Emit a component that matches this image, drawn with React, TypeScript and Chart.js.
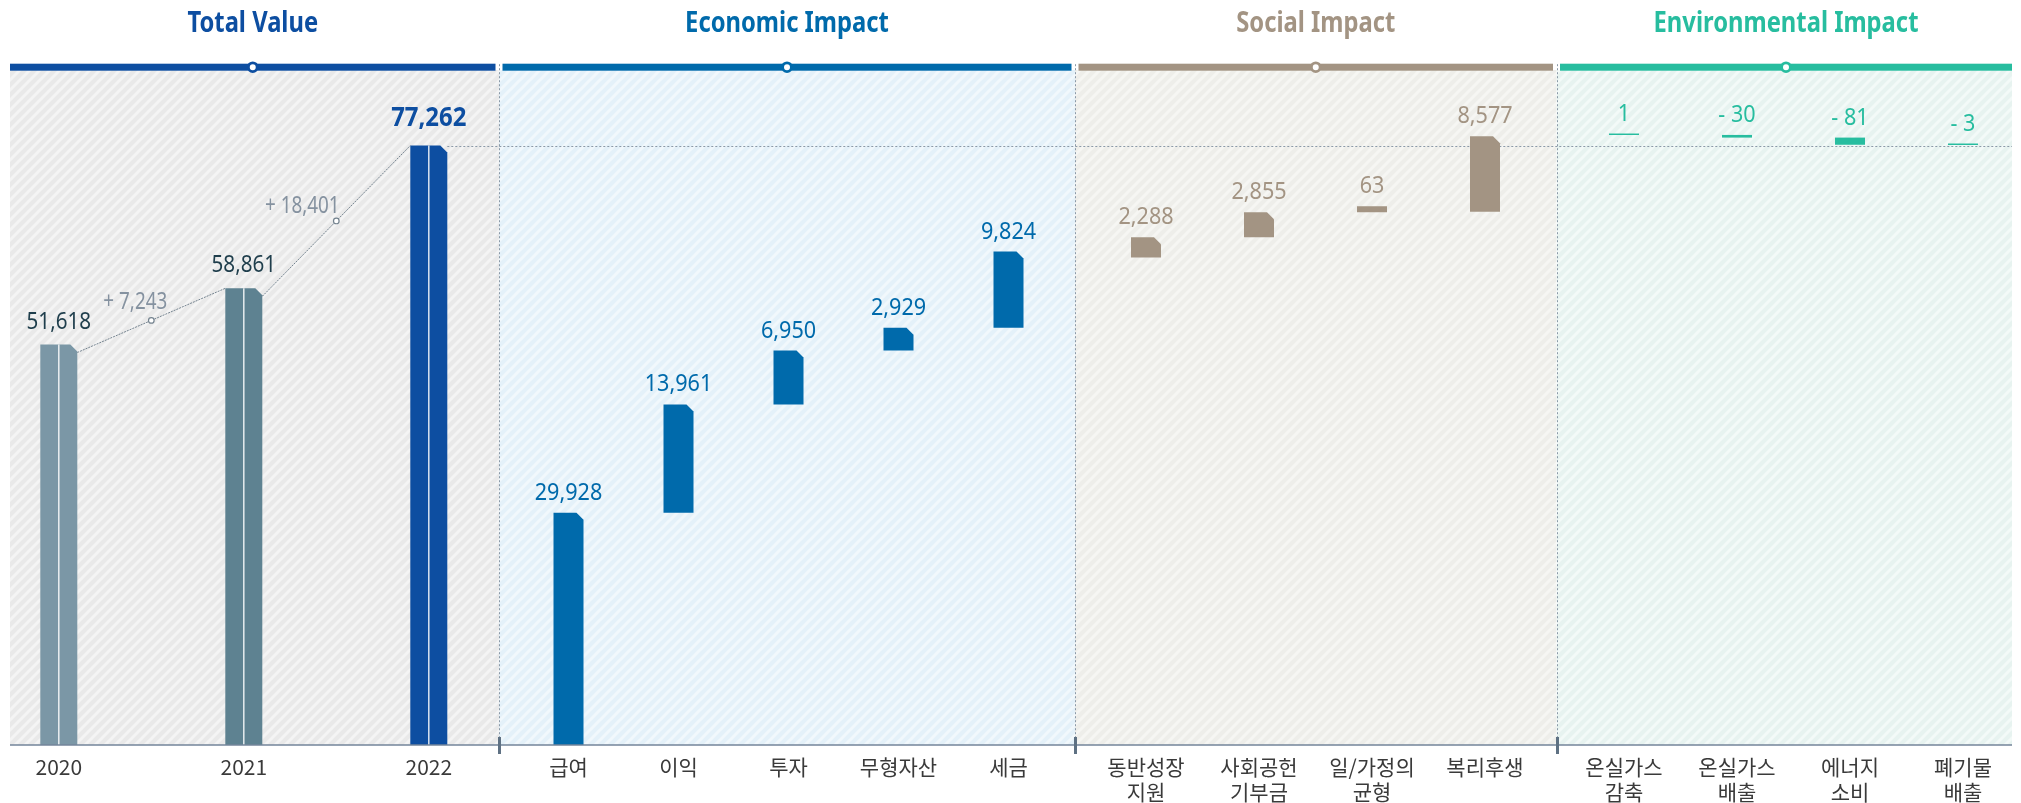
import React, { useEffect, useRef } from 'react';
import { Chart, registerables } from 'chart.js';

Chart.register(...registerables);

// ---------------- data ----------------
const panelTitles = ['Total Value', 'Economic Impact', 'Social Impact', 'Environmental Impact'];
const totalYears = ['2020', '2021', '2022'];
const totalValues = [51618, 58861, 77262];
const economicLabels = ['급여', '이익', '투자', '무형자산', '세금'];
const economicValues = [29928, 13961, 6950, 2929, 9824];
const socialLabels: string[][] = [['동반성장', '지원'], ['사회공헌', '기부금'], ['일/가정의', '균형'], ['복리후생']];
const socialValues = [2288, 2855, 63, 8577];
const envLabels: string[][] = [['온실가스', '감축'], ['온실가스', '배출'], ['에너지', '소비'], ['폐기물', '배출']];
const envValues = [1, -30, -81, -3];

// ---------------- layout & style ----------------
const CANVAS_W = 2021;
const CANVAS_H = 803;
const PANEL_EDGES = [10, 499, 1075, 1556.5, 2012];
const FIRST_OFFSET = [48.8, 69.5, 71, 67.5];
const ITEM_STEP = [185, 110, 113, 113];
const CHART_TOP = 70;
const AXIS_HEIGHT = 58;
const HEADER_Y = 67.2;
const HEADER_THICK = 7;
const HEADER_GAP = 3.5;
const CHAMFER = 7;
const CONNECTOR_LABEL_OFFSET: [number, number][] = [[-16, -11], [-34, -8]];

const headerColors = ['#0d4ea1', '#006aab', '#a39483', '#27bd9f'];
const panelBase = ['#e9e9e9', '#e4f1f9', '#eeeeea', '#e7f3f0'];
const panelStripe = ['#f4f4f4', '#f1f8fc', '#f6f6f3', '#f3faf8'];
const totalBarColors = ['#7b97a6', '#5e8291', '#0d4ea1'];
const totalLabelColor = '#1f3e4c';
const connectorColor = '#74838f';
const dottedColor = '#8b99a7';
const FONT_LATIN = '"Noto Sans", "DejaVu Sans", sans-serif';
const FONT_KR = '"Noto Sans CJK KR", "Noto Sans", sans-serif';

// ---------------- derived ----------------
const sum = (a: number[]) => a.reduce((s, v) => s + v, 0);
function waterfall(values: number[], start: number): [number, number][] {
  let c = start;
  return values.map((v) => {
    const r: [number, number] = [c, c + v];
    c += v;
    return r;
  });
}
const econRanges = waterfall(economicValues, 0);
const econEnd = sum(economicValues);
const socialRanges = waterfall(socialValues, econEnd);
const socialEnd = econEnd + sum(socialValues);
const envRanges = waterfall(envValues, socialEnd);

const panelX = (p: number, n: number) =>
  Array.from({ length: n }, (_, i) => PANEL_EDGES[p] + FIRST_OFFSET[p] + i * ITEM_STEP[p]);
const xTotal = panelX(0, totalValues.length);
const xEcon = panelX(1, economicValues.length);
const xSocial = panelX(2, socialValues.length);
const xEnv = panelX(3, envValues.length);
const tickX = [...xTotal, ...xEcon, ...xSocial, ...xEnv];
const tickLabels: (string | string[])[] = [...totalYears, ...economicLabels, ...socialLabels, ...envLabels];
const panelValues = [totalValues, economicValues, socialValues, envValues];

const fmt = (v: number) => v.toLocaleString('en-US');

function scaledText(
  ctx: CanvasRenderingContext2D,
  text: string,
  x: number,
  y: number,
  font: string,
  color: string,
  sx: number
) {
  ctx.save();
  ctx.font = font;
  ctx.fillStyle = color;
  ctx.textAlign = 'center';
  ctx.textBaseline = 'alphabetic';
  ctx.translate(x, y);
  ctx.scale(sx, 1);
  ctx.fillText(text, 0, 0);
  ctx.restore();
}

function makePattern(ctx: CanvasRenderingContext2D, base: string, stripe: string) {
  const c = document.createElement('canvas');
  c.width = 10;
  c.height = 10;
  const g = c.getContext('2d')!;
  g.fillStyle = base;
  g.fillRect(0, 0, 10, 10);
  g.strokeStyle = stripe;
  g.lineWidth = 3;
  g.beginPath();
  g.moveTo(0, 10);
  g.lineTo(10, 0);
  g.moveTo(-5, 5);
  g.lineTo(5, -5);
  g.moveTo(5, 15);
  g.lineTo(15, 5);
  g.stroke();
  return ctx.createPattern(c, 'repeat')!;
}

const decorPlugin = {
  id: 'decor',
  beforeDraw(chart: any) {
    const ctx: CanvasRenderingContext2D = chart.ctx;
    const a = chart.chartArea;
    ctx.save();
    for (let p = 0; p < 4; p++) {
      ctx.fillStyle = makePattern(ctx, panelBase[p], panelStripe[p]);
      ctx.fillRect(PANEL_EDGES[p], a.top, PANEL_EDGES[p + 1] - PANEL_EDGES[p], a.bottom - a.top);
    }
    for (let p = 0; p < 4; p++) {
      const x0 = PANEL_EDGES[p] + (p > 0 ? HEADER_GAP : 0);
      const x1 = PANEL_EDGES[p + 1] - (p < 3 ? HEADER_GAP : 0);
      ctx.fillStyle = headerColors[p];
      ctx.fillRect(x0, HEADER_Y - HEADER_THICK / 2, x1 - x0, HEADER_THICK);
      const cx = (x0 + x1) / 2;
      ctx.beginPath();
      ctx.arc(cx, HEADER_Y, 4.4, 0, Math.PI * 2);
      ctx.fillStyle = '#ffffff';
      ctx.fill();
      ctx.lineWidth = 2.8;
      ctx.strokeStyle = headerColors[p];
      ctx.stroke();
      scaledText(ctx, panelTitles[p], cx, 32, `bold 29px ${FONT_LATIN}`, headerColors[p], 0.82);
    }
    ctx.restore();
  },
  afterDatasetsDraw(chart: any) {
    const ctx: CanvasRenderingContext2D = chart.ctx;
    const a = chart.chartArea;
    ctx.save();

    // vertical dotted separators
    ctx.strokeStyle = dottedColor;
    ctx.lineWidth = 1;
    ctx.setLineDash([2, 2]);
    for (let p = 1; p < 4; p++) {
      const x = Math.round(PANEL_EDGES[p]) + 0.5;
      ctx.beginPath();
      ctx.moveTo(x, HEADER_Y - 3);
      ctx.lineTo(x, a.bottom);
      ctx.stroke();
    }
    // horizontal dotted line at final total value
    const totalMeta = chart.getDatasetMeta(0);
    const lastIdx = totalValues.length - 1;
    const lastEl = totalMeta.data[lastIdx];
    const yTot = Math.round(chart.scales.y.getPixelForValue(totalValues[lastIdx])) + 0.5;
    ctx.beginPath();
    ctx.moveTo(lastEl.x + lastEl.width / 2, yTot);
    ctx.lineTo(a.right, yTot);
    ctx.stroke();
    ctx.setLineDash([]);

    // bars
    chart.data.datasets.forEach((ds: any, di: number) => {
      const meta = chart.getDatasetMeta(di);
      meta.data.forEach((el: any, i: number) => {
        const left = el.x - el.width / 2;
        const right = el.x + el.width / 2;
        const top = Math.min(el.y, el.base);
        const bottom = Math.max(el.y, el.base);
        const h = bottom - top;
        const c = h >= 15 ? CHAMFER : 0;
        ctx.fillStyle = di === 0 ? totalBarColors[i] : headerColors[di];
        ctx.beginPath();
        ctx.moveTo(left, bottom);
        ctx.lineTo(left, top);
        ctx.lineTo(right - c, top);
        ctx.lineTo(right, top + c);
        ctx.lineTo(right, bottom);
        ctx.closePath();
        ctx.fill();
        if (di === 0) {
          ctx.strokeStyle = 'rgba(255,255,255,0.85)';
          ctx.lineWidth = 1.5;
          ctx.beginPath();
          ctx.moveTo(el.x, top);
          ctx.lineTo(el.x, bottom);
          ctx.stroke();
        }
      });
    });

    // baseline and separator ticks
    ctx.strokeStyle = '#73859a';
    ctx.lineWidth = 1.5;
    ctx.beginPath();
    ctx.moveTo(a.left, a.bottom);
    ctx.lineTo(a.right, a.bottom);
    ctx.stroke();
    ctx.strokeStyle = '#5e7183';
    ctx.lineWidth = 3;
    for (let p = 1; p < 4; p++) {
      const x = Math.round(PANEL_EDGES[p]) + 0.5;
      ctx.beginPath();
      ctx.moveTo(x, a.bottom - 8);
      ctx.lineTo(x, a.bottom + 9);
      ctx.stroke();
    }

    // connectors between totals
    for (let i = 1; i < totalValues.length; i++) {
      const pe = totalMeta.data[i - 1];
      const ne = totalMeta.data[i];
      const x0 = pe.x + pe.width / 2;
      const y0 = Math.min(pe.y, pe.base) + CHAMFER + 1;
      const x1 = ne.x - ne.width / 2;
      const y1 = Math.min(ne.y, ne.base);
      ctx.strokeStyle = connectorColor;
      ctx.lineWidth = 1;
      ctx.setLineDash([2, 1]);
      ctx.beginPath();
      ctx.moveTo(x0, y0);
      ctx.lineTo(x1, y1);
      ctx.stroke();
      ctx.setLineDash([]);
      const mx = (x0 + x1) / 2;
      const my = (y0 + y1) / 2;
      ctx.beginPath();
      ctx.arc(mx, my, 2.8, 0, Math.PI * 2);
      ctx.fillStyle = '#ffffff';
      ctx.fill();
      ctx.lineWidth = 1.2;
      ctx.stroke();
      const diff = totalValues[i] - totalValues[i - 1];
      const off = CONNECTOR_LABEL_OFFSET[i - 1];
      scaledText(ctx, '+ ' + fmt(diff), mx + off[0], my + off[1], `23px ${FONT_LATIN}`, '#8592a0', 0.82);
    }

    // value labels
    chart.data.datasets.forEach((ds: any, di: number) => {
      const meta = chart.getDatasetMeta(di);
      meta.data.forEach((el: any, i: number) => {
        const top = Math.min(el.y, el.base);
        const v = panelValues[di][i];
        if (di === 0) {
          const isLast = i === totalValues.length - 1;
          if (isLast) {
            scaledText(ctx, fmt(v), el.x, top - 20, `bold 26px ${FONT_LATIN}`, totalBarColors[i], 0.92);
          } else {
            scaledText(ctx, fmt(v), el.x, top - 16, `24px ${FONT_LATIN}`, totalLabelColor, 0.86);
          }
        } else {
          const text = di === 3 && v < 0 ? '- ' + fmt(-v) : fmt(v);
          scaledText(ctx, text, el.x, top - 13, `24px ${FONT_LATIN}`, headerColors[di], 0.9);
        }
      });
    });

    ctx.restore();
  },
};

export default function App() {
  const ref = useRef<HTMLCanvasElement | null>(null);
  useEffect(() => {
    document.body.style.margin = '0';
    const canvas = ref.current;
    if (!canvas) return;
    const common = {
      backgroundColor: 'rgba(0,0,0,0)',
      borderWidth: 0,
      grouped: false,
    };
    const chart = new Chart(canvas, {
      type: 'bar',
      data: {
        datasets: [
          {
            ...common,
            label: panelTitles[0],
            data: totalValues.map((v, i) => ({ x: xTotal[i], y: v })),
            yAxisID: 'y',
            barThickness: 37,
          },
          {
            ...common,
            label: panelTitles[1],
            data: econRanges.map((r, i) => ({ x: xEcon[i], y: r })),
            yAxisID: 'y',
            barThickness: 30,
          },
          {
            ...common,
            label: panelTitles[2],
            data: socialRanges.map((r, i) => ({ x: xSocial[i], y: r })),
            yAxisID: 'ySoc',
            barThickness: 30,
            minBarLength: 6,
          },
          {
            ...common,
            label: panelTitles[3],
            data: envRanges.map((r, i) => ({ x: xEnv[i], y: r })),
            yAxisID: 'yEnv',
            barThickness: 30,
            minBarLength: 1.5,
          },
        ] as any,
      },
      options: {
        responsive: false,
        animation: false,
        events: [],
        devicePixelRatio: 1,
        layout: { padding: { top: CHART_TOP, left: PANEL_EDGES[0], right: CANVAS_W - PANEL_EDGES[4], bottom: 0 } },
        plugins: {
          legend: { display: false },
          tooltip: { enabled: false },
        },
        scales: {
          x: {
            type: 'linear',
            min: PANEL_EDGES[0],
            max: PANEL_EDGES[4],
            offset: false,
            grid: { display: false, drawTicks: false },
            border: { display: false },
            afterBuildTicks: (s: any) => {
              s.ticks = tickX.map((v) => ({ value: v }));
            },
            afterFit: (s: any) => {
              s.height = AXIS_HEIGHT;
            },
            ticks: {
              autoSkip: false,
              maxRotation: 0,
              minRotation: 0,
              padding: 10,
              color: '#3a3a3a',
              font: { family: FONT_KR, size: 21, lineHeight: 1.19 },
              callback: (_v: any, i: number) => tickLabels[i],
            },
          },
          y: { type: 'linear', display: false, min: 0, max: 87000 },
          ySoc: { type: 'linear', display: false, min: 8194, max: 84899 },
          yEnv: { type: 'linear', display: false, min: 70480, max: 78110 },
        },
      } as any,
      plugins: [decorPlugin],
    });
    return () => chart.destroy();
  }, []);
  return <canvas ref={ref} width={CANVAS_W} height={CANVAS_H} style={{ display: 'block' }} />;
}
